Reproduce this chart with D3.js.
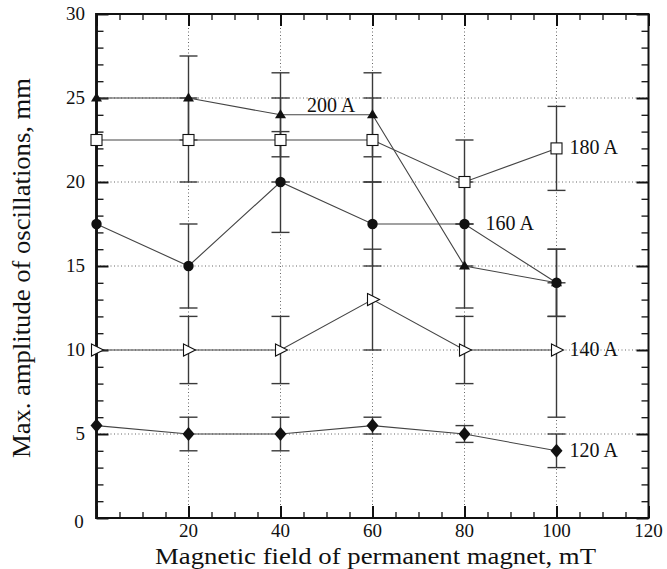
<!DOCTYPE html>
<html>
<head>
<meta charset="utf-8">
<script src="https://cdn.jsdelivr.net/npm/d3@7"></script>
<style>
  html, body { margin: 0; padding: 0; background: #fff; }
  svg { display: block; font-family: "Liberation Serif", "DejaVu Serif", serif; }
</style>
</head>
<body>
<svg id="chart" width="667" height="569"></svg>
<script>
// ---- data ----
const fieldValues = [0, 20, 40, 60, 80, 100];           // mT
const amp200 = [25, 25, 24, 24, 15, 14];
const err200 = [null, 2.5, 2.5, 2.5, 2.5, 2];
const amp180 = [22.5, 22.5, 22.5, 22.5, 20, 22];
const err180 = [null, 2.5, 2.5, 2.5, 2.5, 2.5];
const amp160 = [17.5, 15, 20, 17.5, 17.5, 14];
const err160 = [null, 2.5, 3, 2.5, 2.5, 2];
const amp140 = [10, 10, 10, 13, 10, 10];
const err140 = [null, 2, 2, 3, 2, 4];
const amp120 = [5.5, 5, 5, 5.5, 5, 4];
const err120 = [null, 1, 1, 0.5, 0.5, 1];
const seriesNames = ["200 A", "180 A", "160 A", "140 A", "120 A"];
const xTickLabels = [20, 40, 60, 80, 100, 120];
const yTickLabels = [5, 10, 15, 20, 25, 30];
const xTitle = "Magnetic field of permanent magnet, mT";
const yTitle = "Max. amplitude of oscillations, mm";

// ---- layout ----
const svg = d3.select("#chart");
const L = 96.5, R = 648.5, T = 14, B = 518;
const x = d3.scaleLinear().domain([0, 120]).range([L, R]);
const y = d3.scaleLinear().domain([0, 30]).range([B, T]);
const ink = "#111";

// grid (dotted)
const grid = svg.append("g").attr("stroke", "#666").attr("stroke-width", 1)
  .attr("stroke-dasharray", "1,2.5").attr("fill", "none");
grid.selectAll("line.gx").data([20, 40, 60, 80, 100]).join("line")
  .attr("x1", d => x(d)).attr("x2", d => x(d)).attr("y1", T).attr("y2", B);
grid.selectAll("line.gy").data([5, 10, 15, 20, 25]).join("line")
  .attr("y1", d => y(d)).attr("y2", d => y(d)).attr("x1", L).attr("x2", R);

// axes ticks (inward)
const xMajor = d3.range(0, 121, 20);
const xMinor = d3.range(0, 121, 5).filter(v => v % 20 !== 0);
const yMajor = d3.range(0, 31, 5);
const yMinor = d3.range(0, 31, 1).filter(v => v % 5 !== 0);

function styleAxis(g, w) {
  g.select(".domain").remove();
  g.selectAll(".tick line").attr("stroke", ink).attr("stroke-width", w);
  g.selectAll(".tick text").remove();
}
[["b", B], ["t", T]].forEach(([side, pos]) => {
  const mk = side === "b" ? d3.axisBottom : d3.axisTop;
  svg.append("g").attr("transform", `translate(0,${pos})`)
    .call(mk(x).tickValues(xMajor).tickSize(-12)).call(g => styleAxis(g, 2));
  svg.append("g").attr("transform", `translate(0,${pos})`)
    .call(mk(x).tickValues(xMinor).tickSize(-6)).call(g => styleAxis(g, 1.3));
});
[["l", L], ["r", R]].forEach(([side, pos]) => {
  const mk = side === "l" ? d3.axisLeft : d3.axisRight;
  svg.append("g").attr("transform", `translate(${pos},0)`)
    .call(mk(y).tickValues(yMajor).tickSize(-12)).call(g => styleAxis(g, 2));
  svg.append("g").attr("transform", `translate(${pos},0)`)
    .call(mk(y).tickValues(yMinor).tickSize(-7)).call(g => styleAxis(g, 1.3));
});

// tick labels
svg.append("g").selectAll("text").data(xTickLabels).join("text")
  .attr("x", d => x(d)).attr("y", 537).attr("text-anchor", "middle")
  .attr("font-size", 19).attr("fill", ink).text(d => d);
svg.append("g").selectAll("text").data(yTickLabels).join("text")
  .attr("x", 85).attr("y", d => y(d) + 6).attr("text-anchor", "end")
  .attr("font-size", 19).attr("fill", ink).text(d => d);
svg.append("text").attr("x", 79).attr("y", 528).attr("text-anchor", "middle")
  .attr("font-size", 19).attr("fill", ink).text("0");

// titles
svg.append("text").attr("x", 375.5).attr("y", 564).attr("text-anchor", "middle")
  .attr("font-size", 24).attr("fill", ink)
  .attr("textLength", 441).attr("lengthAdjust", "spacingAndGlyphs").text(xTitle);
svg.append("text").attr("transform", "translate(30,268) rotate(-90)")
  .attr("text-anchor", "middle").attr("font-size", 25).attr("fill", ink)
  .attr("textLength", 380).attr("lengthAdjust", "spacingAndGlyphs").text(yTitle);

// series
const series = [
  { name: seriesNames[0], v: amp200, e: err200, sym: "triUp" },
  { name: seriesNames[1], v: amp180, e: err180, sym: "square" },
  { name: seriesNames[2], v: amp160, e: err160, sym: "circle" },
  { name: seriesNames[3], v: amp140, e: err140, sym: "triRight" },
  { name: seriesNames[4], v: amp120, e: err120, sym: "diamond" }
];

// error bars
const eb = svg.append("g").attr("stroke", "#3a3a3a").attr("stroke-width", 1.4);
series.forEach(s => {
  s.v.forEach((v, i) => {
    const e = s.e[i];
    if (e == null) return;
    const cx = x(fieldValues[i]);
    eb.append("line").attr("x1", cx).attr("x2", cx).attr("y1", y(v - e)).attr("y2", y(v + e));
    [v - e, v + e].forEach(c => eb.append("line")
      .attr("x1", cx - 9).attr("x2", cx + 9).attr("y1", y(c)).attr("y2", y(c)));
  });
});

// lines
const line = d3.line().x((d, i) => x(fieldValues[i])).y(d => y(d));
const lg = svg.append("g").attr("fill", "none").attr("stroke", "#444").attr("stroke-width", 1.1);
series.forEach(s => lg.append("path").attr("d", line(s.v)));

// frame
svg.append("rect").attr("x", L).attr("y", T).attr("width", R - L).attr("height", B - T)
  .attr("fill", "none").attr("stroke", ink).attr("stroke-width", 2);
svg.append("line").attr("x1", L).attr("x2", L).attr("y1", T - 1).attr("y2", B + 1)
  .attr("stroke", ink).attr("stroke-width", 2.8);

// markers
const mg = svg.append("g");
function marker(sym, cx, cy) {
  switch (sym) {
    case "triUp":
      mg.append("path").attr("d", `M${cx},${cy - 5.5}L${cx + 5.5},${cy + 3.5}L${cx - 5.5},${cy + 3.5}Z`)
        .attr("fill", ink); break;
    case "square":
      mg.append("rect").attr("x", cx - 5.5).attr("y", cy - 5.5).attr("width", 11).attr("height", 11)
        .attr("fill", "#fff").attr("stroke", ink).attr("stroke-width", 1.1); break;
    case "circle":
      mg.append("circle").attr("cx", cx).attr("cy", cy).attr("r", 5.2).attr("fill", ink); break;
    case "triRight":
      mg.append("path").attr("d", `M${cx - 5},${cy - 6}L${cx + 7},${cy}L${cx - 5},${cy + 6}Z`)
        .attr("fill", "#fff").attr("stroke", ink).attr("stroke-width", 1.1); break;
    case "diamond":
      mg.append("path").attr("d", `M${cx},${cy - 7}L${cx + 6},${cy}L${cx},${cy + 7}L${cx - 6},${cy}Z`)
        .attr("fill", ink); break;
  }
}
series.forEach(s => s.v.forEach((v, i) => marker(s.sym, x(fieldValues[i]), y(v))));

// series labels
const lab = svg.append("g").attr("font-size", 20).attr("fill", ink);
lab.append("text").attr("x", x(51)).attr("y", y(amp200[2]) - 3).attr("text-anchor", "middle").text(seriesNames[0]);
lab.append("text").attr("x", x(fieldValues[5]) + 13).attr("y", y(amp180[5]) + 6).text(seriesNames[1]);
lab.append("text").attr("x", x(fieldValues[4]) + 21).attr("y", y(amp160[4]) + 6).text(seriesNames[2]);
lab.append("text").attr("x", x(fieldValues[5]) + 13).attr("y", y(amp140[5]) + 6).text(seriesNames[3]);
lab.append("text").attr("x", x(fieldValues[5]) + 13).attr("y", y(amp120[5]) + 6).text(seriesNames[4]);
</script>
</body>
</html>
